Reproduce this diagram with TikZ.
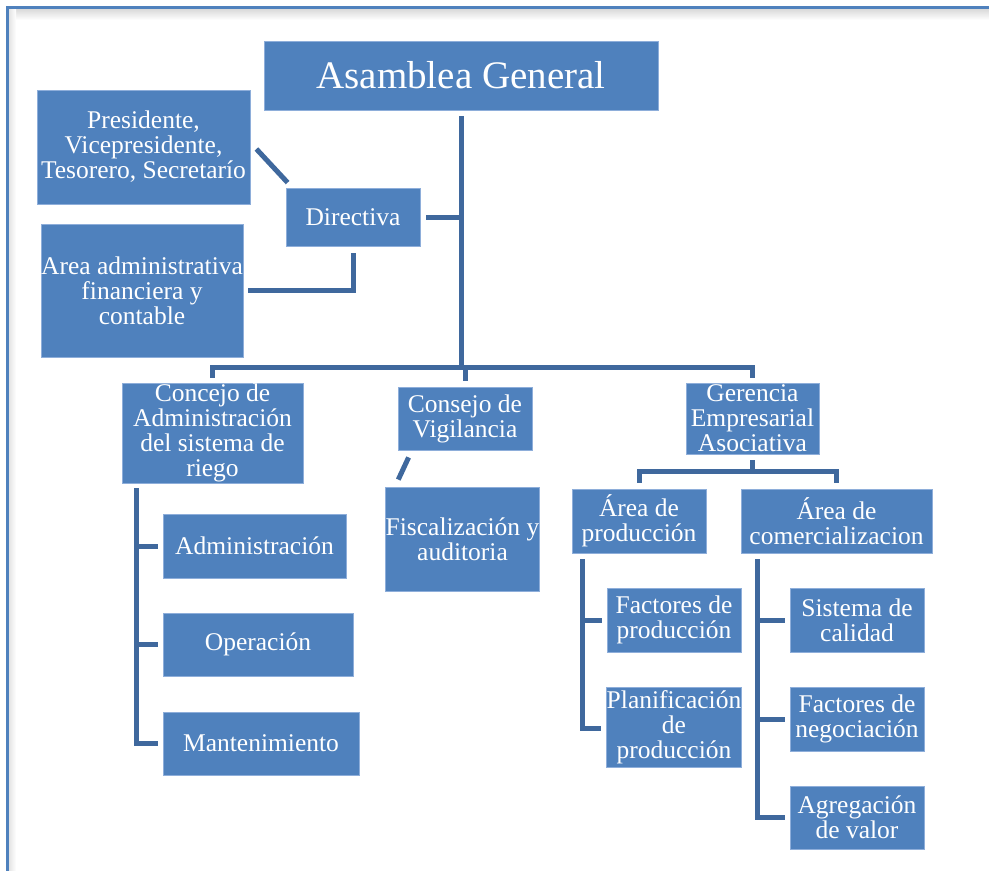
\documentclass[tikz,border=0pt]{standalone}
\usepackage{fontspec}
\setmainfont{Liberation Serif}
\definecolor{boxblue}{HTML}{4F81BD}
\definecolor{boxedge}{HTML}{8EAEDA}
\definecolor{linkblue}{HTML}{3F689D}
\definecolor{frameblue}{HTML}{4F81BD}
\tikzset{
  orgbox/.style={fill=boxblue, draw=boxedge, line width=0.8pt, inner sep=0pt,
    text=white, align=center, font=\fontsize{25.5}{25}\selectfont},
  conn/.style={draw=linkblue, line width=5pt, line cap=butt, line join=miter}
}
\newcommand\orgnode[6]{%
  \node[orgbox, minimum width={(#4-#2)*1pt}, minimum height={(#5-#3)*1pt}]
    (#1) at ({(#2+#4)/2},{(#3+#5)/2}) {#6};}
\begin{document}
\begin{tikzpicture}[x=1pt,y=-1pt]
\useasboundingbox (0,0) rectangle (989,871);
\fill[white] (0,0) rectangle (989,871);
% frame with shadow
\shade[top color=black!16, bottom color=white] (8,8) rectangle (989,20);
\shade[left color=black!12, right color=white] (8,8) rectangle (16,871);
\draw[frameblue, line width=3pt] (7,871) -- (7,7) -- (989,7);

% boxes
\node[orgbox, minimum width=394pt, minimum height=69pt, font=\fontsize{39}{40}\selectfont]
  (ag) at (461,75.5) {Asamblea General};
\orgnode{pres}{37}{90}{250}{204}{Presidente,\\Vicepresidente,\\Tesorero, Secretarío}
\orgnode{dir}{286}{188}{420}{246}{Directiva}
\orgnode{area}{41}{224}{243}{357}{Area administrativa\\financiera y\\contable}
\orgnode{c1}{122}{383}{303}{483}{Concejo de\\Administración\\del sistema de\\riego}
\orgnode{vig}{398}{387}{532}{450}{Consejo de\\Vigilancia}
\orgnode{fisc}{387}{487}{538}{591}{Fiscalización y\\auditoria}
\orgnode{ger}{686}{383}{819}{454}{Gerencia\\Empresarial\\Asociativa}
\orgnode{adm}{163}{514}{346}{578}{Administración}
\orgnode{ope}{163}{613}{353}{676}{Operación}
\orgnode{mant}{163}{712}{359}{775}{Mantenimiento}
\orgnode{prod}{572}{489}{706}{553}{Área de\\producción}
\orgnode{com}{741}{489}{932}{553}{Área de\\comercializacion}
\orgnode{fp}{607}{588}{741}{652}{Factores de\\producción}
\orgnode{plan}{607}{687}{741}{767}{Planificación\\de\\producción}
\orgnode{cal}{790}{588}{924}{652}{Sistema de\\calidad}
\orgnode{neg}{790}{687}{924}{751}{Factores de\\negociación}
\orgnode{agr}{790}{786}{924}{849}{Agregación\\de valor}

% junction coordinates
\coordinate (trTop) at ([yshift=-6pt]ag.south);
\coordinate (busJ) at (462,367);
\coordinate (cb) at ([xshift=15pt,yshift=-5pt]c1.south west);
\coordinate (pb) at ([xshift=11pt,yshift=-6pt]prod.south west);
\coordinate (qb) at ([xshift=17pt,yshift=-6pt]com.south west);
\coordinate (gj) at ([yshift=-17pt]ger.south);

% trunk and bus
\draw[conn] (trTop) -- (trTop |- busJ);
\draw[conn] ([xshift=6pt]dir.east) -- (dir.east -| trTop);
\draw[conn] ([yshift=5pt]c1.north) -- (c1.north |- busJ) -- (ger.north |- busJ) -- ([yshift=5pt]ger.north);
\draw[conn] (vig.north |- busJ) -- ([yshift=6pt]vig.north);

% directiva side links
\draw[conn] ([xshift=6pt,yshift=-2pt]pres.east) -- ([xshift=2pt,yshift=5pt]dir.north west);
\draw[conn] ([xshift=5pt]area.east) -| ([yshift=-7pt]dir.south);

% vigilancia
\draw[conn] ([xshift=11pt,yshift=-7pt]vig.south west) -- ([xshift=13pt,yshift=7pt]fisc.north west);

% concejo bracket
\draw[conn] (cb) |- ([xshift=-5pt]mant.west);
\draw[conn] (cb |- adm.west) -- ([xshift=-5pt]adm.west);
\draw[conn] (cb |- ope.west) -- ([xshift=-5pt]ope.west);

% gerencia
\draw[conn] ([yshift=-6pt]ger.south) -- (gj);
\draw[conn] ([yshift=6pt]prod.north) |- (gj) -| ([yshift=6pt]com.north);

% produccion bracket
\draw[conn] (pb) |- ([xshift=-5pt]plan.west |- 0,728);
\draw[conn] (pb |- fp.west) -- ([xshift=-5pt]fp.west);

% comercializacion bracket
\draw[conn] (qb) |- ([xshift=-5pt]agr.west);
\draw[conn] (qb |- cal.west) -- ([xshift=-5pt]cal.west);
\draw[conn] (qb |- neg.west) -- ([xshift=-5pt]neg.west);
\end{tikzpicture}
\end{document}
